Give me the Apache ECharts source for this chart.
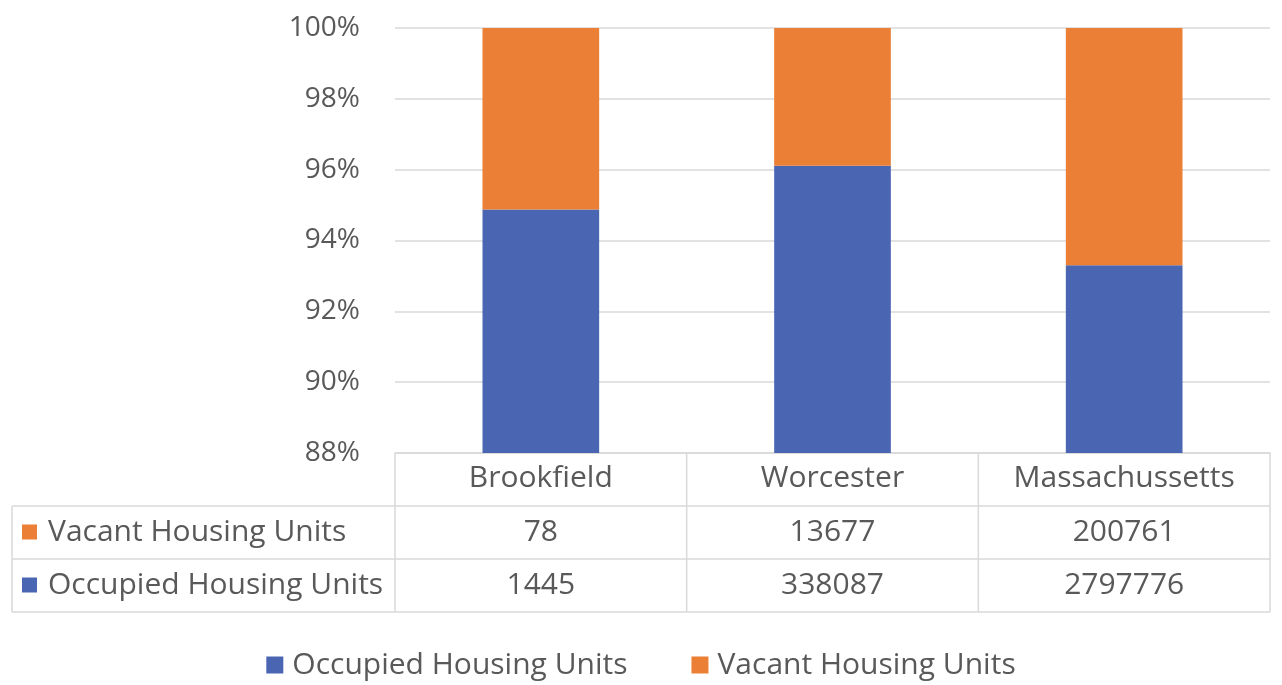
<!DOCTYPE html>
<html>
<head>
<meta charset="utf-8">
<script src="https://cdn.jsdelivr.net/npm/echarts@6/dist/echarts.min.js"></script>
<style>
  html, body { margin: 0; padding: 0; background: #fff; }
  #main { width: 1282px; height: 685px; }
</style>
</head>
<body>
<div id="main"></div>
<script type="text/javascript">
    // data
    var categories = ['Brookfield', 'Worcester', 'Massachussetts'];
    var occupied = [1445, 338087, 2797776];
    var vacant = [78, 13677, 200761];
    var seriesNames = ['Occupied Housing Units', 'Vacant Housing Units'];
    var yTicks = [0.88, 0.90, 0.92, 0.94, 0.96, 0.98, 1.00];

    var BLUE = '#4a66b3';
    var ORANGE = '#eb7f35';
    var TEXT = '#595959';
    var LINE = '#d9d9d9';
    var FONT = '"Open Sans", sans-serif';
    var FS = 30;

    // 100% stacked shares
    var occShare = occupied.map(function (v, i) { return v / (v + vacant[i]); });
    var vacShare = vacant.map(function (v, i) { return v / (v + occupied[i]); });

    var myChart = echarts.init(document.getElementById('main'));

    var option = {
        animation: false,
        grid: { left: 395, right: 12, top: 28, bottom: 232 },
        legend: {
            bottom: 0,
            left: 'center',
            itemWidth: 17,
            itemHeight: 17,
            itemGap: 64,
            icon: 'rect',
            data: seriesNames,
            textStyle: { color: TEXT, fontSize: FS, fontFamily: FONT, padding: [0, 0, 0, 4] }
        },
        xAxis: {
            type: 'category',
            data: categories,
            axisLine: { lineStyle: { color: LINE, width: 1.5 } },
            axisTick: { show: false },
            axisLabel: { color: TEXT, fontSize: FS, fontFamily: FONT, margin: 10 }
        },
        yAxis: {
            type: 'value',
            min: yTicks[0],
            max: yTicks[yTicks.length - 1],
            interval: 0.02,
            axisLine: { show: false },
            axisTick: { show: false },
            splitLine: { lineStyle: { color: LINE, width: 1.5 } },
            axisLabel: {
                color: TEXT, fontSize: 28, fontFamily: FONT, margin: 35,
                formatter: function (v) { return Math.round(v * 100) + '%'; }
            }
        },
        series: [{
            name: seriesNames[0],
            type: 'bar',
            stack: 'total',
            barWidth: '40%',
            itemStyle: { color: BLUE },
            data: occShare
        }, {
            name: seriesNames[1],
            type: 'bar',
            stack: 'total',
            barWidth: '40%',
            itemStyle: { color: ORANGE },
            data: vacShare
        }]
    };
    myChart.setOption(option);

    // data table under the axis
    var drawTable = function () {
        var yTop = myChart.convertToPixel({ yAxisIndex: 0 }, yTicks[0]);
        var rowH = 53;
        var xLeft = 12, xSplit = 395, xRight = 1270;
        var step = myChart.convertToPixel({ xAxisIndex: 0 }, categories[1]) - myChart.convertToPixel({ xAxisIndex: 0 }, categories[0]);
        var els = [];
        var line = function (x1, y1, x2, y2) {
            els.push({ type: 'line', silent: true, shape: { x1: x1, y1: y1, x2: x2, y2: y2 }, style: { stroke: LINE, lineWidth: 1.5 } });
        };
        // horizontal rules
        for (var r = 1; r <= 3; r++) {
            line(xLeft, yTop + rowH * r, xRight, yTop + rowH * r);
        }
        // vertical rules
        line(xLeft, yTop + rowH, xLeft, yTop + rowH * 3);
        for (var c = 0; c <= categories.length; c++) {
            var cx = xSplit + step * c;
            line(cx, yTop, cx, yTop + rowH * 3);
        }
        var rows = [
            { name: seriesNames[1], color: ORANGE, values: vacant },
            { name: seriesNames[0], color: BLUE, values: occupied }
        ];
        rows.forEach(function (row, ri) {
            var cy = yTop + rowH * (ri + 1) + rowH / 2;
            els.push({ type: 'rect', silent: true, shape: { x: 22, y: cy - 8, width: 15, height: 15 }, style: { fill: row.color } });
            els.push({ type: 'text', silent: true, x: 48, y: cy, style: { text: row.name, fill: TEXT, fontSize: FS, fontFamily: FONT, verticalAlign: 'middle', align: 'left' } });
            row.values.forEach(function (v, i) {
                els.push({
                    type: 'text', silent: true,
                    x: myChart.convertToPixel({ xAxisIndex: 0 }, categories[i]), y: cy,
                    style: { text: String(v), fill: TEXT, fontSize: FS, fontFamily: FONT, align: 'center', verticalAlign: 'middle' }
                });
            });
        });
        myChart.setOption({ graphic: els });
    };
    drawTable();
</script>
</body>
</html>
